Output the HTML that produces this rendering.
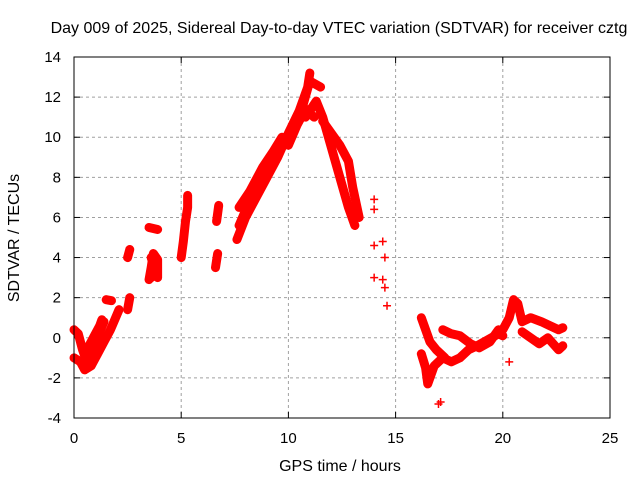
<!DOCTYPE html>
<html><head><meta charset="utf-8"><style>
body{margin:0;background:#fff}
svg{font-family:"Liberation Sans",sans-serif;font-size:15px}
</style></head><body>
<svg id="c" width="640" height="480">
<text x="339" y="33" text-anchor="middle" font-size="16">Day 009 of 2025, Sidereal Day-to-day VTEC variation (SDTVAR) for receiver cztg</text>
<text x="340" y="471" text-anchor="middle" font-size="16">GPS time / hours</text>
<text transform="translate(19,238) rotate(-90)" text-anchor="middle" font-size="16">SDTVAR / TECUs</text>
<g id="grid"></g>
<g id="ticks"></g>
<g id="marks"></g>
<rect x="74" y="57" width="536" height="361" fill="none" stroke="#000" stroke-width="1"/>
</svg>
<script>
const xTicks=[0,5,10,15,20,25];
const yTicks=[-4,-2,0,2,4,6,8,10,12,14];
const trackA=[[0,0.4],[0.2,0.2],[0.4,-0.6],[0.6,-1.2],[0.8,-0.8],[1.0,-0.2],[1.2,0.3],[1.4,0.8]];
const trackB=[[0,-1.0],[0.3,-1.2],[0.5,-1.6],[0.8,-1.4],[1.1,-0.8],[1.4,-0.2],[1.7,0.4],[1.9,0.9],[2.1,1.4]];
const trackB2=[[0.6,-0.6],[0.9,0.0],[1.2,0.6],[1.3,0.9]];
const trackC=[[1.5,1.9],[1.75,1.85]];
const trackD=[[2.5,1.4],[2.55,1.7],[2.6,2.0]];
const trackE=[[2.5,4.0],[2.6,4.4]];
const trackF=[[3.5,5.5],[3.9,5.4]];
const trackG=[[3.5,2.9],[3.6,3.5],[3.7,4.2],[3.9,3.9],[3.9,3.0]];
const trackG2=[[3.6,3.0],[3.8,3.3],[3.6,4.0]];
const trackH=[[5.0,4.0],[5.1,4.8],[5.2,5.8],[5.3,6.5],[5.3,7.1]];
const trackI=[[6.65,5.8],[6.75,6.6]];
const trackI2=[[6.6,3.5],[6.7,4.2]];
const trackJ1=[[7.6,4.9],[8.0,6.0],[8.5,7.0],[9.0,8.0],[9.5,9.0],[10.0,10.2],[10.5,11.3],[10.9,12.5],[11.0,13.2]];
const trackJ2=[[7.7,6.5],[8.2,7.3],[8.8,8.5],[9.3,9.3],[9.7,10.0]];
const trackJ3=[[7.7,5.6],[8.1,6.6],[8.6,7.6],[9.1,8.6],[9.6,9.5]];
const trackK0=[[10.2,10.5],[10.6,11.3],[11.0,12.8],[11.5,12.5]];
const trackK3=[[10.0,9.6],[10.4,10.6],[10.8,11.4],[11.2,11.0]];
const trackK1=[[10.8,11.0],[11.3,11.8],[11.6,11.0],[12.0,9.5],[12.4,8.0],[12.8,6.5],[13.1,5.6]];
const trackK2=[[11.6,10.8],[12.0,10.2],[12.4,9.6],[12.8,8.8],[13.0,7.5],[13.3,6.0]];
const scatter=[[14.0,6.9],[14.0,6.4],[14.0,4.6],[14.4,4.8],[14.5,4.0],[14.0,3.0],[14.4,2.9],[14.5,2.5],[14.6,1.6],[17.0,-3.3],[17.1,-3.2],[20.3,-1.2]];
const trackL1=[[16.2,1.0],[16.4,0.4],[16.6,-0.2],[16.9,-0.6],[17.3,-1.0]];
const trackL2=[[16.2,-0.8],[16.4,-1.5],[16.5,-2.3],[16.8,-1.4],[17.2,-1.0],[17.6,-1.2],[18.0,-1.0],[18.4,-0.6],[18.8,-0.4],[19.3,-0.1],[19.8,0.2],[20.0,0.1]];
const trackL3=[[17.2,0.4],[17.6,0.2],[18.0,0.1],[18.5,-0.3],[18.9,-0.5],[19.4,-0.2],[19.8,0.4]];
const trackL4=[[20.0,0.4],[20.3,1.0],[20.5,1.9],[20.7,1.7],[20.9,0.8],[21.3,1.0],[21.8,0.8],[22.2,0.6],[22.6,0.4],[22.8,0.5]];
const trackL5=[[20.9,0.3],[21.3,0.0],[21.7,-0.3],[22.1,0.0],[22.6,-0.6],[22.8,-0.4]];
const tracks=[trackA,trackB,trackB2,trackC,trackD,trackE,trackF,trackG,trackG2,trackH,trackI,trackI2,trackJ1,trackJ2,trackJ3,trackK0,trackK3,trackK1,trackK2,trackL1,trackL2,trackL3,trackL4,trackL5];

const X0=74,X1=610,Y0=418,Y1=57;
function xs(t){return X0+(t-0)/(25-0)*(X1-X0);}
function ys(v){return Y0-(v+4)/(14+4)*(Y0-Y1);}
const NS='http://www.w3.org/2000/svg';
const grid=document.getElementById('grid'),ticks=document.getElementById('ticks'),marks=document.getElementById('marks');
function mk(tag,attrs,parent){const e=document.createElementNS(NS,tag);for(const k in attrs)e.setAttribute(k,attrs[k]);parent.appendChild(e);return e;}
xTicks.forEach(t=>{
  const x=xs(t);
  if(t>0&&t<25){const g=mk('line',{x1:x,x2:x,y1:Y1,y2:Y0,stroke:'#a0a0a0','stroke-dasharray':'3,3'},grid);
  
  }
  mk('line',{x1:x,x2:x,y1:Y0,y2:Y0-6,stroke:'#000'},ticks);
  mk('line',{x1:x,x2:x,y1:Y1,y2:Y1+6,stroke:'#000'},ticks);
  const l=mk('text',{x:x,y:Y0+25,'text-anchor':'middle'},ticks);l.textContent=t;
  
  
});
yTicks.forEach(v=>{
  const y=ys(v);
  if(v>-4&&v<14){const g=mk('line',{x1:X0,x2:X1,y1:y,y2:y,stroke:'#a0a0a0','stroke-dasharray':'3,3'},grid);
  
  }
  mk('line',{x1:X0,x2:X0+6,y1:y,y2:y,stroke:'#000'},ticks);
  mk('line',{x1:X1,x2:X1-6,y1:y,y2:y,stroke:'#000'},ticks);
  const l=mk('text',{x:X0-13,y:y+5,'text-anchor':'end'},ticks);l.textContent=v;
  
  
});
function plus(t,v){
  const x=xs(t),y=ys(v);
  const p=mk('path',{d:`M${x-4},${y}h8M${x},${y-4}v8`,stroke:'#f00','stroke-width':1.5},marks);
  
  
}
tracks.forEach(tr=>{
  const pl=mk('polyline',{points:tr.map(p=>xs(p[0])+','+ys(p[1])).join(' '),fill:'none',stroke:'#f00','stroke-width':9,'stroke-linejoin':'round','stroke-linecap':'round'},marks);
  
  
  tr.forEach(p=>plus(p[0],p[1]));
});
scatter.forEach(p=>plus(p[0],p[1]));
</script>
</body></html>
